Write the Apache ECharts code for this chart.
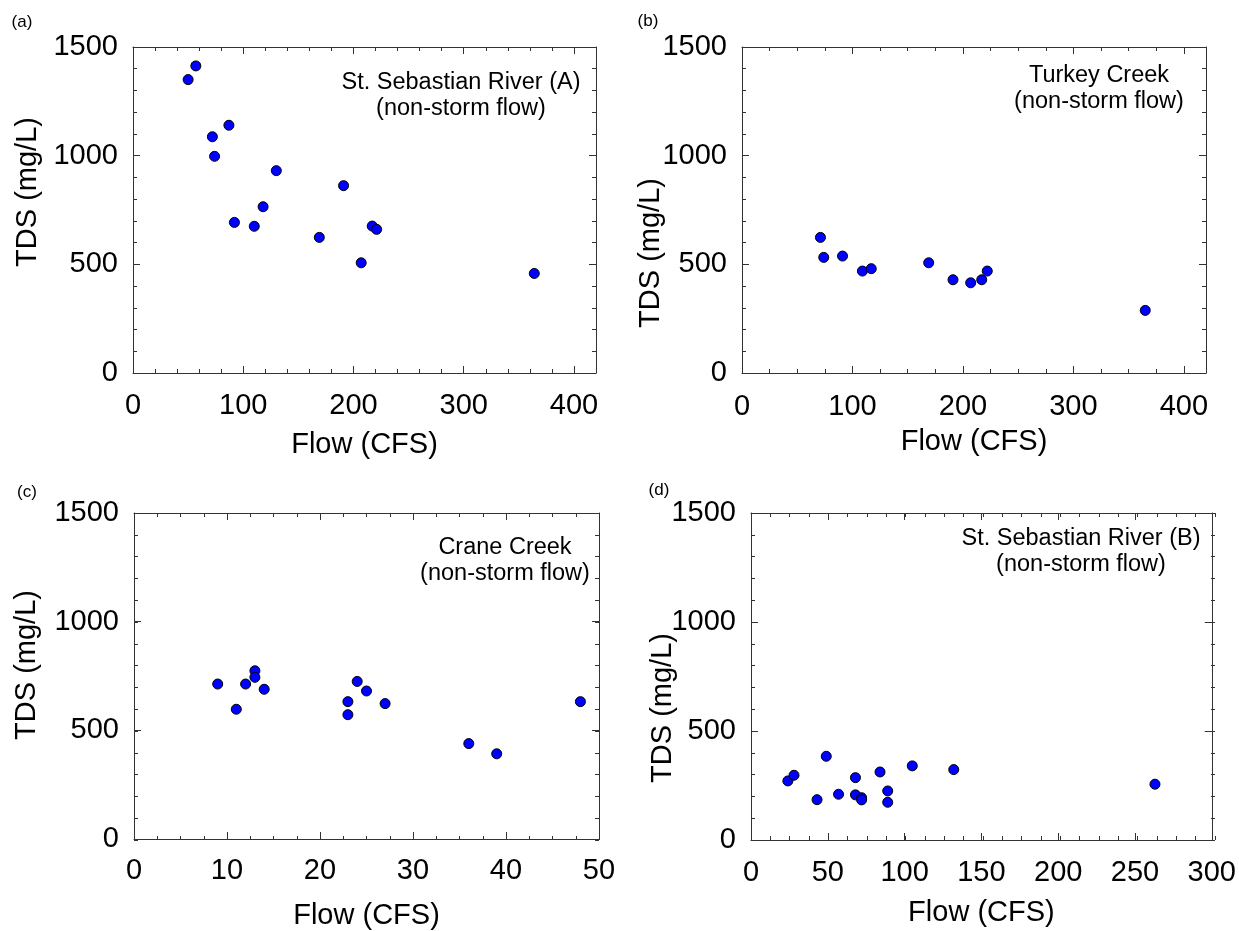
<!DOCTYPE html>
<html>
<head>
<meta charset="utf-8">
<title>TDS vs Flow</title>
<script src="https://cdn.jsdelivr.net/npm/echarts@6/dist/echarts.min.js"></script>
<style>
  html, body { margin: 0; padding: 0; background: #fff; }
  #chart { width: 1239px; height: 931px; }
</style>
</head>
<body>
<div id="chart"></div>
<script>
// (a) St. Sebastian River (A)
const flowA = [50, 57, 72, 74, 87, 92, 110, 118, 130, 169, 191, 207, 217, 221, 364];
const tdsA  = [1350, 1413, 1087, 997, 1140, 693, 675, 765, 931, 624, 862, 507, 676, 661, 458];
// (b) Turkey Creek
const flowB = [71, 74, 91, 109, 117, 169, 191, 207, 217, 222, 365];
const tdsB  = [624, 532, 538, 469, 480, 507, 429, 415, 429, 469, 288];
// (c) Crane Creek
const flowC = [9, 11, 12, 13, 13, 14, 23, 23, 24, 25, 27, 36, 39, 48];
const tdsC  = [713, 597, 713, 774, 744, 689, 632, 572, 725, 681, 623, 439, 392, 632];
// (d) St. Sebastian River (B)
const flowD = [24, 28, 43, 49, 57, 68, 68, 72, 72, 84, 89, 89, 105, 132, 263];
const tdsD  = [271, 297, 185, 384, 210, 286, 207, 194, 184, 312, 225, 173, 340, 323, 256];

const panelTags = ['(a)', '(b)', '(c)', '(d)'];
const siteNames = ['St. Sebastian River (A)', 'Turkey Creek', 'Crane Creek', 'St. Sebastian River (B)'];
const flowMax   = [420, 420, 50, 300];
const flowMajor = [100, 100, 10, 50];
const flowMinor = [20, 25, 2.5, 12.5];
const tdsMax = 1500, tdsMajor = 500, tdsMinor = 100;

const FONT = "'Liberation Sans', Arial, Helvetica, sans-serif";

const panels = [
  { x: flowA, y: tdsA, rect: { left: 133, top: 47, width: 463, height: 326 }, nameGap: 57, labelMargin: 18,
    tag: [22, 22], note: [461, 96], yTitle: [28, 192], hideMax: true },
  { x: flowB, y: tdsB, rect: { left: 742, top: 47, width: 464, height: 326 }, nameGap: 54, labelMargin: 19,
    tag: [648, 21], note: [1099, 89], yTitle: [651, 253], hideMax: true },
  { x: flowC, y: tdsC, rect: { left: 134, top: 513, width: 465, height: 327 }, nameGap: 62, labelMargin: 17,
    tag: [27, 492], note: [505, 561], yTitle: [27, 665], hideMax: false },
  { x: flowD, y: tdsD, rect: { left: 751, top: 513, width: 464, height: 327 }, nameGap: 58, labelMargin: 18,
    tag: [659, 490], note: [1081, 552], yTitle: [663, 708], hideMax: false }
];

// one axis; "major" ones carry the frame line and long ticks, "minor" ones only short ticks
function makeAxis(gi, pos, max, step, isMajor, withLabels) {
  return {
    gridIndex: gi, type: 'value', position: pos, min: 0, max: max, interval: step,
    splitLine: { show: false },
    axisLine: { show: isMajor, onZero: false, lineStyle: { color: '#333', width: 1 } },
    axisTick: { show: true, inside: true, length: isMajor ? 7 : 4, lineStyle: { color: '#333' } },
    axisLabel: withLabels
      ? { show: true, fontSize: 29, fontFamily: FONT, color: '#000', margin: 15,
          formatter: function (v) { return String(v); } }
      : { show: false }
  };
}

const grids = [], xAxes = [], yAxes = [], series = [], graphics = [];

panels.forEach(function (p, i) {
  const gMajor = grids.length;
  grids.push(Object.assign({}, p.rect));
  const gMinor = grids.length;
  grids.push(Object.assign({}, p.rect));

  const xIdx = xAxes.length, yIdx = yAxes.length;

  const xBottom = makeAxis(gMajor, 'bottom', flowMax[i], flowMajor[i], true, true);
  xBottom.axisLabel.margin = p.labelMargin;
  xBottom.axisLabel.showMaxLabel = !p.hideMax;
  xBottom.name = 'Flow (CFS)';
  xBottom.nameLocation = 'middle';
  xBottom.nameGap = p.nameGap;
  xBottom.nameTextStyle = { fontSize: 29, fontFamily: FONT, color: '#000' };
  xAxes.push(xBottom);
  xAxes.push(makeAxis(gMajor, 'top', flowMax[i], flowMajor[i], true, false));
  xAxes.push(makeAxis(gMinor, 'bottom', flowMax[i], flowMinor[i], false, false));
  xAxes.push(makeAxis(gMinor, 'top', flowMax[i], flowMinor[i], false, false));

  yAxes.push(makeAxis(gMajor, 'left', tdsMax, tdsMajor, true, true));
  yAxes.push(makeAxis(gMajor, 'right', tdsMax, tdsMajor, true, false));
  yAxes.push(makeAxis(gMinor, 'left', tdsMax, tdsMinor, false, false));
  yAxes.push(makeAxis(gMinor, 'right', tdsMax, tdsMinor, false, false));

  series.push({
    name: siteNames[i],
    type: 'scatter',
    xAxisIndex: xIdx,
    yAxisIndex: yIdx,
    symbol: 'circle',
    symbolSize: 10,
    itemStyle: { color: '#0000ff', borderColor: '#000', borderWidth: 1, opacity: 1 },
    data: p.x.map(function (v, k) { return [v, p.y[k]]; })
  });

  graphics.push({
    type: 'text', x: p.tag[0], y: p.tag[1],
    style: { text: panelTags[i], font: '17px ' + FONT, fill: '#000',
      textAlign: 'center', textVerticalAlign: 'middle', align: 'center', verticalAlign: 'middle' }
  });
  graphics.push({
    type: 'text', x: p.note[0], y: p.note[1],
    style: { text: siteNames[i] + '\n(non-storm flow)', font: '23.5px ' + FONT, fill: '#000', lineHeight: 26,
      textAlign: 'center', textVerticalAlign: 'middle', align: 'center', verticalAlign: 'middle' }
  });
  graphics.push({
    type: 'text', x: p.yTitle[0], y: p.yTitle[1], rotation: Math.PI / 2,
    style: { text: 'TDS (mg/L)', font: '29px ' + FONT, fill: '#000',
      textAlign: 'center', textVerticalAlign: 'middle', align: 'center', verticalAlign: 'middle' }
  });
});

const chart = echarts.init(document.getElementById('chart'), null, { renderer: 'canvas' });
chart.setOption({
  backgroundColor: '#fff',
  animation: false,
  grid: grids,
  xAxis: xAxes,
  yAxis: yAxes,
  series: series,
  graphic: graphics
});
</script>
</body>
</html>
